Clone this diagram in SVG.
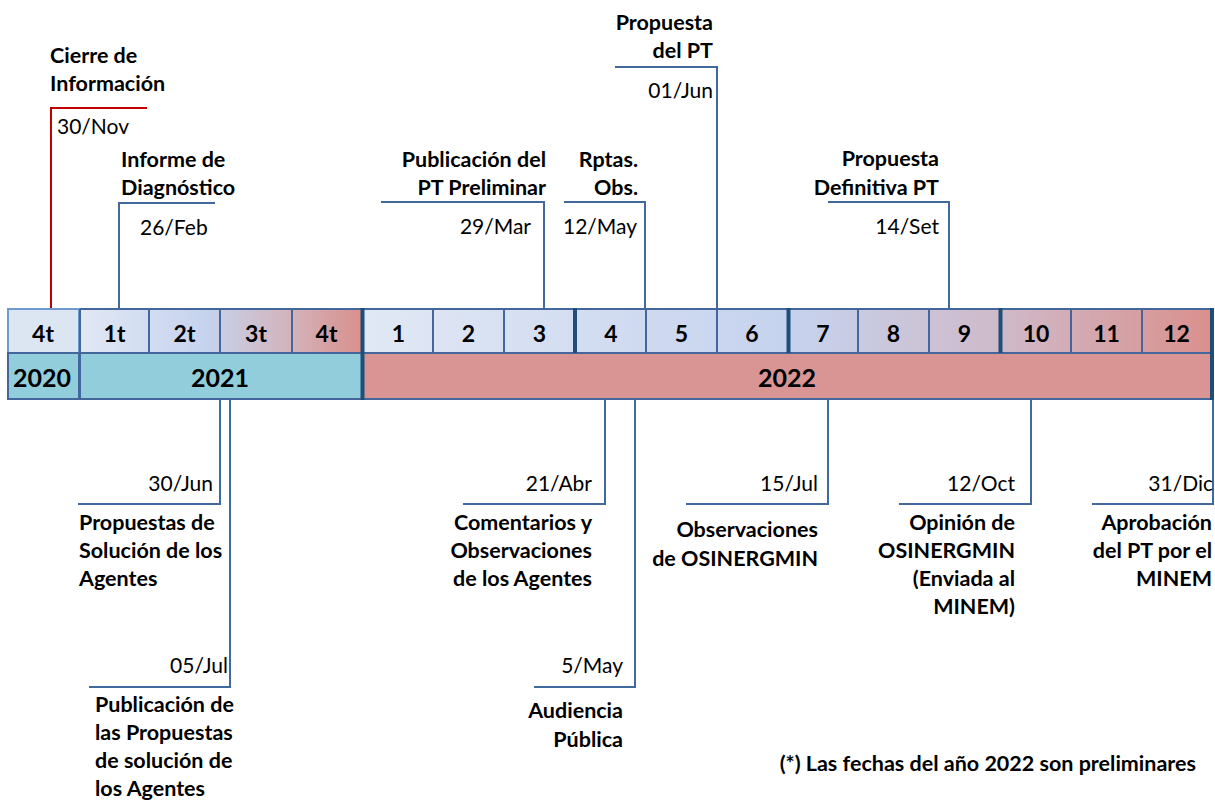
<svg xmlns="http://www.w3.org/2000/svg" width="1215" height="801" viewBox="0 0 1215 801">
  <defs>
    <linearGradient id="g2021" gradientUnits="userSpaceOnUse" x1="80" y1="0" x2="361" y2="0">
      <stop offset="0" stop-color="#e1e8f5"/>
      <stop offset="0.45" stop-color="#c6d3ee"/>
      <stop offset="0.75" stop-color="#d3b3bb"/>
      <stop offset="1" stop-color="#d9908d"/>
    </linearGradient>
    <linearGradient id="g2022" gradientUnits="userSpaceOnUse" x1="364" y1="0" x2="1211" y2="0">
      <stop offset="0" stop-color="#e1e8f5"/>
      <stop offset="0.5" stop-color="#c6d3ee"/>
      <stop offset="0.75" stop-color="#cfbac9"/>
      <stop offset="1" stop-color="#da908d"/>
    </linearGradient>
    <style>
      text{font-family:Lato,'Open Sans',sans-serif;fill:#000}
      .lbl{font-weight:700;font-size:21.5px}
      .dt{font-weight:400;font-size:21px}
      .cell{font-weight:700;font-size:23px;text-anchor:middle}
      .yr{font-weight:700;font-size:25px;text-anchor:middle}
      .e{text-anchor:end}
      .ln{stroke:#41699d;stroke-width:2;fill:none}
      .red{stroke:#c00000}
      .grid{stroke:#44679b;stroke-width:2;fill:none}
      .thick{stroke:#1f4e79;stroke-width:4;fill:none}
    </style>
  </defs>

  <!-- timeline grid: quarters / months on top, years below -->
  <g id="grid">
    <g id="y2020">
      <rect x="8" y="309" width="71" height="44" fill="#dce5f2" stroke="#6d9bd0" stroke-width="2"/>
      <rect x="8" y="353" width="71" height="46" fill="#92cddc" stroke="#44679b" stroke-width="2"/>
      <text class="cell" x="43" y="342">4t</text>
      <text class="yr" x="42" y="387">2020</text>
    </g>
    <g id="y2021">
      <rect x="80" y="309" width="281" height="44" fill="url(#g2021)"/>
      <rect x="80" y="353" width="281" height="46" fill="#92cddc"/>
      <path class="grid" d="M80,309H361M80,353H361M80,399H361M80,309V399M149,309V353M220,309V353M292,309V353"/>
      <text class="cell" x="114.5" y="342">1t</text>
      <text class="cell" x="184.5" y="342">2t</text>
      <text class="cell" x="256" y="342">3t</text>
      <text class="cell" x="326.5" y="342">4t</text>
      <text class="yr" x="220" y="387">2021</text>
    </g>
    <g id="y2022">
      <rect x="364" y="309" width="847" height="44" fill="url(#g2022)"/>
      <rect x="364" y="353" width="847" height="46" fill="#d99594"/>
      <path class="grid" d="M364,309H1211M364,353H1211M364,399H1211M433,309V353M504,309V353M646,309V353M717,309V353M858,309V353M929,309V353M1071,309V353M1142,309V353"/>
      <text class="cell" x="398.5" y="342">1</text>
      <text class="cell" x="468.5" y="342">2</text>
      <text class="cell" x="539.5" y="342">3</text>
      <text class="cell" x="611" y="342">4</text>
      <text class="cell" x="681.5" y="342">5</text>
      <text class="cell" x="752" y="342">6</text>
      <text class="cell" x="823" y="342">7</text>
      <text class="cell" x="893.5" y="342">8</text>
      <text class="cell" x="964.5" y="342">9</text>
      <text class="cell" x="1036" y="342">10</text>
      <text class="cell" x="1106.5" y="342">11</text>
      <text class="cell" x="1176.5" y="342">12</text>
      <text class="yr" x="787" y="387">2022</text>
    </g>
    <path class="thick" d="M362.5,308V400M575,308V353M788.5,308V353M1000.5,308V353M1212,308V400"/>
  </g>

  <!-- connectors from the timeline to each milestone -->
  <g id="connectors">
    <path class="ln red" d="M51,308V108H147"/>
    <path class="ln" d="M119,308V203H215"/>
    <path class="ln" d="M544,308V202H381"/>
    <path class="ln" d="M645,308V202H564"/>
    <path class="ln" d="M717,308V67H615"/>
    <path class="ln" d="M949,308V202H828"/>
    <path class="ln" d="M220,400V504H78"/>
    <path class="ln" d="M230,400V687H89"/>
    <path class="ln" d="M605,400V504H463"/>
    <path class="ln" d="M635,400V687H534"/>
    <path class="ln" d="M828,400V504H686"/>
    <path class="ln" d="M1031,400V504H899"/>
    <path class="ln" d="M1213,400V504H1092"/>
  </g>

  <!-- milestones above the timeline -->
  <g id="cierre">
    <text class="lbl" x="50" y="63">Cierre de</text>
    <text class="lbl" x="50" y="91">Información</text>
    <text class="dt" x="57" y="134">30/Nov</text>
  </g>
  <g id="diagnostico">
    <text class="lbl" x="121" y="167">Informe de</text>
    <text class="lbl" x="121" y="195">Diagnóstico</text>
    <text class="dt" x="140" y="235">26/Feb</text>
  </g>
  <g id="pt-preliminar">
    <text class="lbl e" x="546" y="167">Publicación del</text>
    <text class="lbl e" x="546" y="195">PT Preliminar</text>
    <text class="dt e" x="531" y="234">29/Mar</text>
  </g>
  <g id="rptas-obs">
    <text class="lbl e" x="638" y="167">Rptas.</text>
    <text class="lbl e" x="638" y="195">Obs.</text>
    <text class="dt e" x="637" y="234">12/May</text>
  </g>
  <g id="propuesta-pt">
    <text class="lbl e" x="713" y="30">Propuesta</text>
    <text class="lbl e" x="713" y="58">del PT</text>
    <text class="dt e" x="713" y="98">01/Jun</text>
  </g>
  <g id="propuesta-definitiva">
    <text class="lbl e" x="939" y="166">Propuesta</text>
    <text class="lbl e" x="939" y="195">Definitiva PT</text>
    <text class="dt e" x="939" y="234">14/Set</text>
  </g>

  <!-- milestones below the timeline -->
  <g id="propuestas-solucion">
    <text class="dt e" x="213" y="491">30/Jun</text>
    <text class="lbl" x="79" y="530">Propuestas de</text>
    <text class="lbl" x="79" y="558">Solución de los</text>
    <text class="lbl" x="79" y="586">Agentes</text>
  </g>
  <g id="publicacion-propuestas">
    <text class="dt e" x="228" y="673">05/Jul</text>
    <text class="lbl" x="95" y="712">Publicación de</text>
    <text class="lbl" x="95" y="740">las Propuestas</text>
    <text class="lbl" x="95" y="768">de solución de</text>
    <text class="lbl" x="95" y="796">los Agentes</text>
  </g>
  <g id="comentarios">
    <text class="dt e" x="592" y="491">21/Abr</text>
    <text class="lbl e" x="592" y="530">Comentarios y</text>
    <text class="lbl e" x="592" y="558">Observaciones</text>
    <text class="lbl e" x="592" y="586">de los Agentes</text>
  </g>
  <g id="audiencia">
    <text class="dt e" x="623" y="673">5/May</text>
    <text class="lbl e" x="623" y="718">Audiencia</text>
    <text class="lbl e" x="623" y="747">Pública</text>
  </g>
  <g id="observaciones-osinergmin">
    <text class="dt e" x="818" y="491">15/Jul</text>
    <text class="lbl e" x="818" y="537">Observaciones</text>
    <text class="lbl e" x="818" y="566">de OSINERGMIN</text>
  </g>
  <g id="opinion-osinergmin">
    <text class="dt e" x="1015" y="491">12/Oct</text>
    <text class="lbl e" x="1015" y="530">Opinión de</text>
    <text class="lbl e" x="1015" y="558">OSINERGMIN</text>
    <text class="lbl e" x="1015" y="586">(Enviada al</text>
    <text class="lbl e" x="1015" y="614">MINEM)</text>
  </g>
  <g id="aprobacion">
    <text class="dt e" x="1213" y="491">31/Dic</text>
    <text class="lbl e" x="1212" y="530">Aprobación</text>
    <text class="lbl e" x="1212" y="558">del PT por el</text>
    <text class="lbl e" x="1212" y="586">MINEM</text>
  </g>

  <text class="lbl e" x="1196" y="771">(*) Las fechas del año 2022 son preliminares</text>
</svg>
